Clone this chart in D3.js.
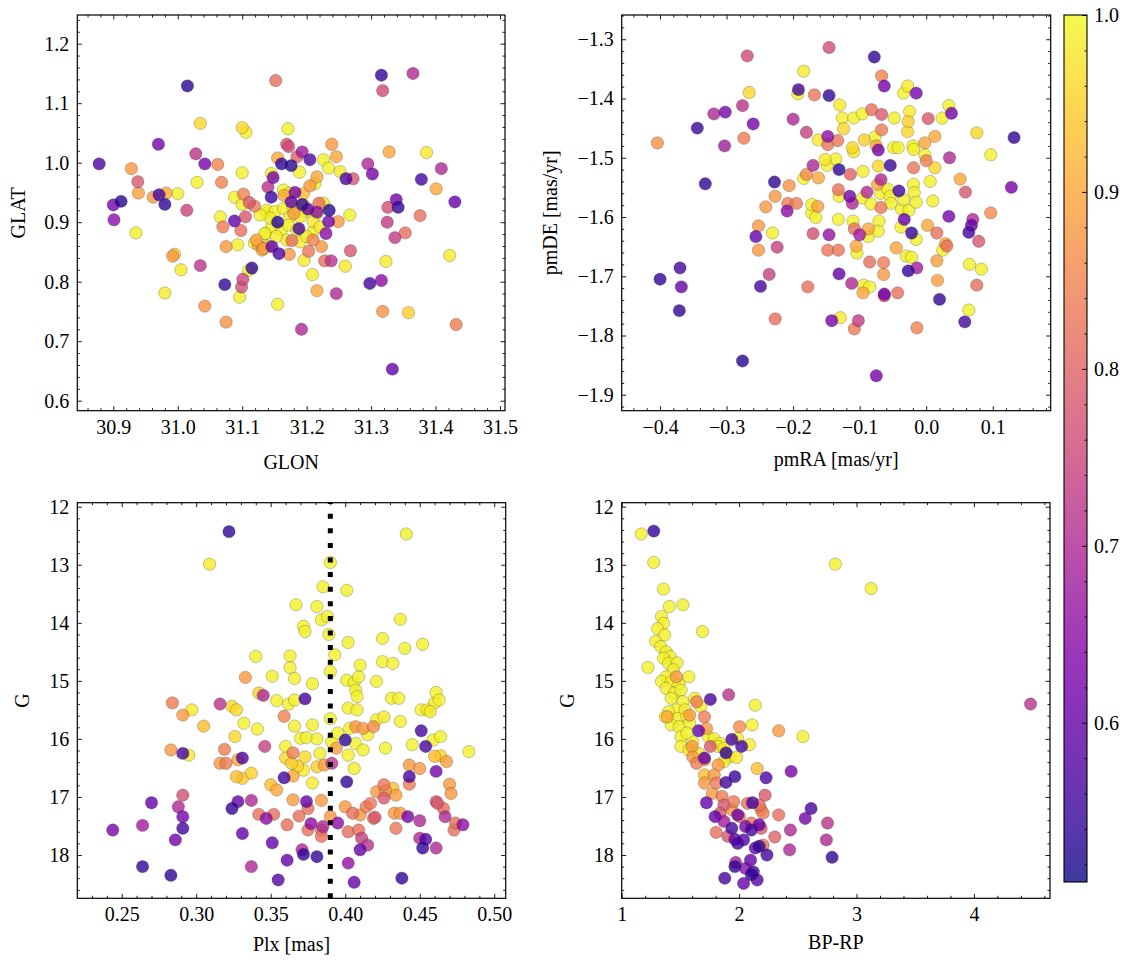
<!DOCTYPE html>
<html><head><meta charset="utf-8">
<script src="https://cdn.jsdelivr.net/npm/d3@7"></script>
<style>body{margin:0;background:#fff}</style>
</head><body>
<svg id="c" width="1133" height="965"></svg>
<script>
// ---------- data: [x, y, membership probability] ----------
const probRange = [0.51, 1.0];
const cbarTicks = [0.6, 0.7, 0.8, 0.9, 1.0];
const plxMean = 0.390;

const glonTicks = [30.9, 31.0, 31.1, 31.2, 31.3, 31.4, 31.5];
const glatTicks = [0.6, 0.7, 0.8, 0.9, 1.0, 1.1, 1.2];
const pmraTicks = [-0.4, -0.3, -0.2, -0.1, 0.0, 0.1];
const pmdeTicks = [-1.9, -1.8, -1.7, -1.6, -1.5, -1.4, -1.3];
const plxTicks = [0.25, 0.30, 0.35, 0.40, 0.45, 0.50];
const gTicks = [12, 13, 14, 15, 16, 17, 18];
const bprpTicks = [1, 2, 3, 4];

const glonGlat = [
[30.878,0.998,0.57],[30.900,0.929,0.62],[30.912,0.935,0.53],[30.901,0.904,0.65],[30.928,0.990,0.88],
[30.938,0.968,0.78],[30.939,0.949,0.89],[30.935,0.882,0.99],[30.970,1.031,0.62],[30.971,0.946,0.56],
[30.962,0.942,0.88],[30.982,0.949,0.90],[30.980,0.930,0.54],[31.000,0.948,0.99],[31.015,1.129,0.53],
[31.014,0.920,0.75],[30.992,0.843,0.88],[30.995,0.846,0.95],[31.005,0.820,0.98],[30.980,0.781,0.98],
[31.028,1.015,0.72],[31.042,0.998,0.62],[31.035,1.066,0.96],[31.030,0.967,0.99],[31.035,0.827,0.72],
[31.042,0.759,0.87],[31.062,0.997,0.85],[31.068,0.967,0.85],[31.066,0.909,0.99],[31.070,0.892,0.84],
[31.075,0.859,0.88],[31.073,0.795,0.54],[31.075,0.732,0.87],[31.088,0.902,0.60],[31.088,0.942,0.99],
[31.093,0.862,0.99],[31.100,1.059,0.96],[31.106,1.051,0.99],[31.100,0.983,0.99],[31.102,0.947,0.85],
[31.105,0.909,0.78],[31.098,0.886,0.82],[31.100,0.930,0.99],[31.111,0.933,0.78],[31.096,0.774,0.99],
[31.101,0.804,0.75],[31.099,0.791,0.77],[31.110,0.819,0.99],[31.115,0.823,0.54],[31.119,0.927,0.84],
[31.119,0.865,0.99],[31.125,0.862,0.90],[31.131,0.853,0.90],[31.136,0.881,0.99],[31.138,0.915,0.99],
[31.140,0.959,0.72],[31.145,0.982,0.99],[31.148,0.975,0.62],[31.145,0.942,0.55],[31.146,0.859,0.60],
[31.155,0.900,0.53],[31.157,0.847,0.57],[31.152,1.138,0.82],[31.155,0.762,0.99],[31.155,1.008,0.90],
[31.161,0.998,0.54],[31.176,0.995,0.53],[31.171,1.057,0.99],[31.169,1.031,0.78],[31.172,1.027,0.76],
[31.185,1.010,0.80],[31.189,0.984,0.99],[31.193,1.018,0.68],[31.205,1.005,0.57],[31.176,0.934,0.60],
[31.182,0.950,0.63],[31.177,0.869,0.82],[31.173,0.846,0.88],[31.188,0.889,0.56],[31.193,0.930,0.54],
[31.202,0.922,0.60],[31.216,0.917,0.65],[31.216,0.976,0.90],[31.213,0.965,0.99],[31.203,0.851,0.83],
[31.196,0.836,0.98],[31.209,0.812,0.99],[31.216,0.785,0.90],[31.192,0.720,0.70],[31.226,1.005,0.99],
[31.234,0.991,0.99],[31.239,1.031,0.88],[31.246,1.010,0.90],[31.252,0.985,0.98],[31.235,0.920,0.53],
[31.234,0.901,0.62],[31.230,0.881,0.65],[31.219,0.932,0.82],[31.223,0.859,0.88],[31.228,0.835,0.82],
[31.238,0.835,0.72],[31.249,0.901,0.88],[31.261,0.973,0.57],[31.272,0.973,0.78],[31.267,0.912,0.99],
[31.268,0.852,0.78],[31.260,0.826,0.98],[31.246,0.780,0.70],[31.295,0.998,0.70],[31.302,0.981,0.62],
[31.298,0.797,0.56],[31.316,1.147,0.54],[31.318,1.121,0.76],[31.328,1.018,0.90],[31.326,0.925,0.77],
[31.325,0.900,0.73],[31.323,0.834,0.98],[31.316,0.802,0.65],[31.318,0.750,0.87],[31.337,0.874,0.73],
[31.339,0.938,0.62],[31.342,0.925,0.54],[31.333,0.653,0.60],[31.365,1.150,0.70],[31.353,0.882,0.82],
[31.358,0.748,0.95],[31.378,0.972,0.56],[31.376,0.911,0.82],[31.386,1.017,0.98],[31.401,0.956,0.90],
[31.409,0.990,0.70],[31.422,0.844,0.98],[31.430,0.934,0.60],[31.432,0.728,0.84],
[31.138,0.920,0.99],[31.151,0.918,0.99],[31.164,0.923,0.99],[31.174,0.909,0.99],[31.190,0.909,0.98],
[31.200,0.918,0.99],[31.210,0.901,0.98],[31.146,0.892,0.99],[31.161,0.887,0.99],[31.172,0.895,0.99],
[31.185,0.887,0.99],[31.200,0.876,0.98],[31.135,0.881,0.99],[31.153,0.876,0.98],[31.169,0.870,0.99],
[31.190,0.867,0.99],[31.210,0.884,0.99],[31.221,0.892,0.98],[31.143,0.907,0.99],[31.179,0.926,0.99],
[31.195,0.929,0.98],[31.216,0.915,0.99],[31.128,0.912,0.99],[31.226,0.932,0.98],[31.164,0.954,0.99],
[31.122,0.870,0.90],[31.133,0.856,0.89],[31.174,0.949,0.99],[31.205,0.961,0.88],[31.180,0.915,0.88],
[31.165,0.945,0.90],[31.195,0.948,0.93],[31.210,0.870,0.85],[31.140,0.860,0.95]
];

const pmraPmde = [
[-0.404,-1.475,0.87],[-0.344,-1.450,0.55],[-0.332,-1.544,0.54],[-0.319,-1.426,0.70],[-0.302,-1.423,0.62],
[-0.303,-1.480,0.68],[-0.276,-1.412,0.72],[-0.269,-1.328,0.76],[-0.266,-1.390,0.96],[-0.260,-1.443,0.62],
[-0.274,-1.467,0.84],[-0.400,-1.705,0.54],[-0.370,-1.686,0.56],[-0.368,-1.718,0.60],[-0.371,-1.758,0.54],
[-0.276,-1.843,0.53],[-0.256,-1.633,0.60],[-0.252,-1.615,0.88],[-0.252,-1.656,0.88],[-0.249,-1.717,0.56],
[-0.241,-1.583,0.88],[-0.231,-1.627,0.99],[-0.228,-1.541,0.54],[-0.236,-1.697,0.74],[-0.227,-1.772,0.82],
[-0.224,-1.651,0.74],[-0.227,-1.565,0.88],[-0.206,-1.547,0.87],[-0.208,-1.577,0.84],[-0.209,-1.590,0.65],
[-0.195,-1.577,0.84],[-0.200,-1.435,0.70],[-0.192,-1.385,0.56],[-0.193,-1.392,0.99],[-0.184,-1.354,0.98],
[-0.184,-1.535,0.99],[-0.180,-1.528,0.86],[-0.180,-1.457,0.74],[-0.170,-1.513,0.70],[-0.168,-1.394,0.83],
[-0.170,-1.628,0.77],[-0.178,-1.718,0.82],[-0.172,-1.593,0.99],[-0.166,-1.601,0.99],[-0.172,-1.579,0.99],
[-0.163,-1.582,0.89],[-0.162,-1.534,0.90],[-0.162,-1.470,0.98],[-0.152,-1.503,0.98],[-0.149,-1.513,0.99],
[-0.146,-1.314,0.77],[-0.146,-1.395,0.54],[-0.148,-1.464,0.65],[-0.148,-1.478,0.83],[-0.146,-1.630,0.66],
[-0.148,-1.656,0.83],[-0.132,-1.656,0.83],[-0.131,-1.520,0.54],[-0.130,-1.411,0.98],[-0.133,-1.471,0.83],
[-0.136,-1.502,0.99],[-0.131,-1.565,0.99],[-0.132,-1.554,0.82],[-0.132,-1.604,0.99],[-0.131,-1.696,0.60],
[-0.129,-1.770,0.98],[-0.142,-1.775,0.62],[-0.126,-1.433,0.99],[-0.124,-1.451,0.96],[-0.114,-1.528,0.80],
[-0.115,-1.565,0.62],[-0.111,-1.577,0.70],[-0.112,-1.712,0.70],[-0.109,-1.433,0.99],[-0.111,-1.483,0.96],
[-0.109,-1.490,0.98],[-0.110,-1.607,0.99],[-0.108,-1.620,0.82],[-0.108,-1.789,0.84],[-0.102,-1.775,0.73],
[-0.105,-1.649,0.90],[-0.104,-1.661,0.99],[-0.100,-1.630,0.68],[-0.096,-1.426,0.99],[-0.095,-1.523,0.99],
[-0.096,-1.568,0.99],[-0.089,-1.558,0.70],[-0.093,-1.470,0.95],[-0.094,-1.715,0.99],[-0.095,-1.728,0.90],
[-0.085,-1.718,0.99],[-0.087,-1.620,0.90],[-0.087,-1.633,0.99],[-0.085,-1.676,0.82],[-0.082,-1.419,0.82],
[-0.083,-1.578,0.99],[-0.078,-1.330,0.54],[-0.077,-1.465,0.99],[-0.075,-1.480,0.90],[-0.075,-1.868,0.62],
[-0.072,-1.487,0.62],[-0.073,-1.545,0.90],[-0.072,-1.514,0.96],[-0.068,-1.537,0.70],[-0.069,-1.560,0.99],
[-0.068,-1.584,0.83],[-0.071,-1.607,0.99],[-0.072,-1.624,0.99],[-0.067,-1.362,0.85],[-0.063,-1.379,0.62],
[-0.067,-1.427,0.78],[-0.067,-1.453,0.84],[-0.064,-1.677,0.84],[-0.064,-1.697,0.88],[-0.063,-1.730,0.62],
[-0.063,-1.733,0.74],[-0.058,-1.553,0.99],[-0.054,-1.565,0.99],[-0.054,-1.513,0.55],[-0.053,-1.577,0.99],
[-0.049,-1.483,0.99],[-0.048,-1.433,0.99],[-0.045,-1.652,0.90],[-0.043,-1.728,0.82],[-0.042,-1.483,0.99],
[-0.041,-1.556,0.56],[-0.038,-1.617,0.99],[-0.037,-1.587,0.99],[-0.034,-1.391,0.99],[-0.034,-1.571,0.99],
[-0.033,-1.604,0.60],[-0.030,-1.666,0.99],[-0.028,-1.379,0.98],[-0.028,-1.456,0.96],[-0.027,-1.439,0.95],
[-0.026,-1.589,0.99],[-0.027,-1.691,0.54],[-0.025,-1.422,0.98],[-0.022,-1.668,0.99],[-0.022,-1.627,0.54],
[-0.020,-1.480,0.99],[-0.019,-1.486,0.99],[-0.019,-1.517,0.83],[-0.019,-1.545,0.99],[-0.018,-1.559,0.99],
[-0.015,-1.391,0.62],[-0.015,-1.638,0.99],[-0.015,-1.575,0.99],[-0.014,-1.686,0.68],[-0.014,-1.787,0.85],
[-0.002,-1.475,0.90],[-0.002,-1.495,0.99],[0.000,-1.505,0.84],[0.002,-1.614,0.90],[0.003,-1.434,0.78],
[0.006,-1.540,0.99],[0.010,-1.573,0.99],[0.013,-1.464,0.90],[0.013,-1.517,0.96],[0.016,-1.627,0.82],
[0.016,-1.674,0.89],[0.017,-1.707,0.89],[0.020,-1.739,0.54],[0.024,-1.433,0.99],[0.025,-1.656,0.99],
[0.029,-1.645,0.90],[0.031,-1.649,0.82],[0.034,-1.412,0.99],[0.035,-1.500,0.70],[0.034,-1.599,0.62],
[0.038,-1.425,0.62],[0.051,-1.536,0.90],[0.059,-1.558,0.78],[0.058,-1.777,0.56],[0.064,-1.757,0.99],
[0.064,-1.626,0.56],[0.068,-1.614,0.60],[0.070,-1.604,0.70],[0.065,-1.680,0.99],[0.076,-1.458,0.96],
[0.079,-1.641,0.78],[0.076,-1.715,0.82],[0.083,-1.688,0.99],[0.097,-1.495,0.99],[0.097,-1.593,0.86],
[0.128,-1.550,0.62],[0.132,-1.466,0.54]
];

const plxG = [
[0.244,17.57,0.62],[0.264,17.49,0.68],[0.264,18.20,0.54],[0.270,17.10,0.60],[0.283,18.35,0.54],
[0.284,15.38,0.84],[0.283,16.19,0.88],[0.286,17.74,0.62],[0.288,17.17,0.70],[0.291,16.97,0.77],
[0.291,17.34,0.62],[0.291,17.54,0.56],[0.291,15.59,0.88],[0.291,16.25,0.56],[0.295,16.28,0.98],
[0.297,15.50,0.98],[0.305,15.78,0.93],[0.309,12.99,0.98],[0.316,15.40,0.72],[0.316,16.42,0.88],
[0.319,16.18,0.84],[0.320,16.42,0.84],[0.322,12.43,0.54],[0.324,17.20,0.54],[0.324,15.44,0.96],
[0.327,15.50,0.96],[0.326,15.96,0.96],[0.328,17.08,0.60],[0.327,16.65,0.93],[0.328,16.36,0.90],
[0.331,16.33,0.57],[0.331,16.68,0.95],[0.331,17.63,0.60],[0.332,15.73,0.99],[0.333,14.94,0.88],
[0.337,16.59,0.95],[0.337,17.06,0.70],[0.337,18.20,0.70],[0.340,14.58,0.99],[0.342,15.21,0.95],
[0.345,15.25,0.70],[0.341,15.83,0.99],[0.342,17.30,0.82],[0.346,16.13,0.74],[0.347,17.37,0.65],
[0.350,16.79,0.93],[0.351,17.79,0.60],[0.351,14.92,0.99],[0.352,17.30,0.82],[0.354,15.34,0.99],
[0.354,16.88,0.90],[0.355,18.43,0.58],[0.359,16.67,0.56],[0.359,15.61,0.85],[0.360,16.13,0.99],
[0.360,16.33,0.96],[0.361,17.48,0.82],[0.361,18.09,0.60],[0.362,15.40,0.99],[0.363,14.77,0.99],
[0.363,14.57,0.99],[0.364,16.42,0.95],[0.365,16.64,0.90],[0.365,17.05,0.89],[0.365,16.24,0.84],
[0.366,15.78,0.99],[0.366,14.96,0.99],[0.366,15.33,0.99],[0.367,13.69,0.99],[0.368,16.47,0.96],
[0.370,15.99,0.99],[0.369,17.33,0.82],[0.371,17.91,0.70],[0.372,17.99,0.54],[0.372,14.06,0.99],
[0.373,14.15,0.99],[0.373,15.31,0.56],[0.373,16.31,0.96],[0.372,16.54,0.98],[0.374,15.98,0.99],
[0.374,17.08,0.60],[0.375,17.57,0.82],[0.375,17.20,0.82],[0.377,17.46,0.65],[0.378,15.76,0.99],
[0.378,15.05,0.99],[0.378,16.76,0.98],[0.381,13.72,0.99],[0.381,18.03,0.54],[0.381,16.00,0.99],
[0.381,16.48,0.95],[0.383,16.25,0.99],[0.384,13.95,0.99],[0.384,17.06,0.88],[0.384,17.57,0.82],
[0.384,17.68,0.82],[0.385,13.38,0.99],[0.386,16.45,0.89],[0.385,17.51,0.70],[0.388,13.89,0.99],
[0.389,14.20,0.99],[0.390,14.84,0.99],[0.390,12.96,0.99],[0.390,15.65,0.99],[0.391,16.05,0.99],
[0.391,16.42,0.72],[0.390,17.34,0.88],[0.393,14.55,0.99],[0.394,16.16,0.89],[0.395,15.90,0.99],
[0.395,17.45,0.65],[0.400,16.02,0.54],[0.400,17.17,0.88],[0.401,14.99,0.99],[0.401,16.74,0.54],
[0.401,13.44,0.99],[0.402,14.34,0.99],[0.402,15.47,0.99],[0.402,18.14,0.66],[0.402,17.60,0.82],
[0.402,16.28,0.99],[0.403,15.82,0.99],[0.405,17.28,0.82],[0.406,16.51,0.99],[0.406,18.47,0.60],
[0.406,15.03,0.99],[0.407,16.08,0.99],[0.407,15.79,0.88],[0.407,15.16,0.99],[0.408,15.27,0.99],
[0.408,15.50,0.99],[0.409,17.57,0.82],[0.409,14.93,0.99],[0.410,14.73,0.99],[0.410,17.91,0.60],
[0.410,17.31,0.88],[0.411,17.71,0.74],[0.412,16.19,0.99],[0.412,15.82,0.88],[0.414,17.17,0.84],
[0.415,17.83,0.72],[0.415,15.93,0.99],[0.417,17.11,0.83],[0.419,15.79,0.86],[0.419,17.37,0.82],
[0.420,17.35,0.78],[0.421,16.91,0.88],[0.421,15.01,0.99],[0.421,15.67,0.99],[0.425,14.27,0.99],
[0.425,14.67,0.99],[0.426,15.62,0.98],[0.426,16.79,0.83],[0.426,17.02,0.78],[0.427,16.16,0.99],
[0.427,16.89,0.88],[0.431,15.30,0.99],[0.432,14.70,0.99],[0.432,16.85,0.93],[0.433,17.28,0.88],
[0.434,17.54,0.83],[0.434,16.97,0.89],[0.436,15.30,0.99],[0.437,13.94,0.99],[0.437,15.70,0.99],
[0.437,17.28,0.88],[0.438,18.40,0.54],[0.440,14.44,0.99],[0.441,12.47,0.99],[0.442,17.34,0.62],
[0.443,16.65,0.56],[0.443,16.45,0.88],[0.443,16.78,0.84],[0.445,16.10,0.99],[0.450,16.51,0.88],
[0.450,17.41,0.70],[0.450,17.71,0.70],[0.451,15.50,0.99],[0.451,15.86,0.56],[0.452,14.37,0.99],
[0.452,17.88,0.54],[0.454,16.13,0.56],[0.454,17.73,0.58],[0.455,15.50,0.99],[0.457,15.53,0.98],
[0.459,16.02,0.99],[0.460,15.38,0.99],[0.460,16.30,0.93],[0.461,15.20,0.99],[0.461,17.88,0.70],
[0.461,16.56,0.62],[0.461,17.08,0.78],[0.462,17.11,0.78],[0.463,15.33,0.99],[0.464,15.96,0.99],
[0.464,16.29,0.96],[0.466,17.20,0.82],[0.467,17.34,0.70],[0.468,16.39,0.89],[0.470,16.78,0.88],
[0.471,16.94,0.88],[0.473,17.57,0.82],[0.474,17.45,0.82],[0.479,17.48,0.65],[0.483,16.22,0.99]
];

const bprpG = [
[1.166,12.47,0.99],[1.273,12.42,0.54],[1.273,12.96,0.99],[1.356,13.42,0.99],[1.406,13.72,0.99],
[1.522,13.69,0.99],[2.819,12.99,0.99],[3.125,13.41,0.99],[4.482,15.40,0.72],[1.688,14.15,0.99],
[1.223,14.77,0.99],[1.339,13.89,0.99],[1.356,14.01,0.99],[1.306,14.10,0.99],[1.366,14.21,0.99],
[1.289,14.32,0.99],[1.333,14.41,0.99],[1.379,14.50,0.99],[1.412,14.58,0.99],[1.356,14.61,0.99],
[1.399,14.70,0.99],[1.472,14.69,0.99],[1.439,14.81,0.99],[1.379,14.93,0.99],[1.339,15.01,0.99],
[1.422,15.01,0.99],[1.489,15.05,0.99],[1.572,14.93,0.99],[1.379,15.13,0.99],[1.449,15.21,0.99],
[1.505,15.16,0.99],[1.422,15.30,0.99],[1.522,15.36,0.99],[1.466,15.50,0.99],[1.399,15.53,0.99],
[1.539,15.50,0.99],[1.372,15.62,0.99],[1.472,15.65,0.99],[1.555,15.62,0.99],[1.422,15.76,0.99],
[1.489,15.79,0.99],[1.579,15.73,0.99],[1.505,15.96,0.99],[1.605,16.05,0.99],[1.555,15.90,0.99],
[1.505,16.13,0.99],[1.572,16.19,0.98],[1.655,16.25,0.98],[1.622,15.30,0.99],[1.672,15.44,0.99],
[1.738,15.96,0.99],[1.788,16.00,0.99],[1.838,16.08,0.99],[1.871,16.16,0.98],[1.921,16.31,0.98],
[1.871,16.39,0.98],[1.821,16.13,0.99],[2.137,15.42,0.99],[2.111,15.76,0.99],[1.988,15.99,0.99],
[2.088,16.10,0.99],[1.978,16.32,0.98],[2.543,15.96,0.99],[1.466,14.93,0.88],[2.004,15.79,0.86],
[2.337,15.86,0.88],[2.154,16.51,0.93],[1.638,15.36,0.84],[1.579,15.59,0.88],[1.705,15.62,0.84],
[1.722,15.82,0.88],[1.389,15.62,0.90],[1.599,16.13,0.88],[1.605,16.31,0.88],[1.638,16.42,0.84],
[1.705,16.36,0.88],[1.755,16.13,0.78],[1.821,16.45,0.88],[1.705,16.62,0.93],[1.788,16.62,0.88],
[1.705,16.76,0.88],[1.805,16.76,0.84],[1.772,16.94,0.88],[1.855,16.99,0.84],[1.871,17.14,0.78],
[1.954,17.08,0.83],[1.838,17.28,0.78],[1.938,17.22,0.88],[2.004,17.34,0.83],[2.071,17.11,0.82],
[2.171,17.14,0.82],[2.221,16.97,0.78],[2.187,17.22,0.86],[2.204,17.28,0.84],[2.337,17.31,0.82],
[2.104,17.45,0.82],[1.805,17.61,0.82],[1.904,17.68,0.78],[2.304,17.69,0.80],[2.187,17.54,0.78],
[2.204,17.83,0.82],[2.437,17.57,0.70],[2.430,17.91,0.70],[2.753,17.45,0.72],[2.743,17.74,0.70],
[2.563,17.37,0.62],[2.613,17.20,0.56],[2.443,16.56,0.62],[2.230,16.67,0.57],[2.792,18.04,0.54],
[1.911,15.24,0.72],[1.755,15.32,0.56],[1.655,15.86,0.60],[1.705,16.33,0.60],[1.938,16.01,0.56],
[2.021,16.13,0.56],[1.888,16.24,0.54],[1.964,16.65,0.55],[1.888,16.75,0.56],[1.722,17.10,0.60],
[2.114,17.10,0.56],[1.795,17.34,0.60],[1.988,17.31,0.62],[1.871,17.42,0.68],[1.938,17.54,0.56],
[2.104,17.57,0.56],[2.054,17.51,0.62],[2.171,17.48,0.60],[1.964,17.73,0.60],[2.038,17.74,0.58],
[1.988,17.80,0.56],[2.137,17.88,0.60],[2.171,17.85,0.54],[2.237,18.00,0.56],[1.971,18.13,0.68],
[1.964,18.20,0.54],[2.054,18.23,0.65],[2.097,18.09,0.60],[2.104,18.34,0.54],[1.878,18.40,0.56],
[2.038,18.49,0.60],[2.154,18.43,0.58],[2.121,18.29,0.56]
];

// ---------- drawing ----------
const FF = "'Liberation Serif', 'Times New Roman', serif";
const FS = 20;
const svg = d3.select('#c');
const color = d3.scaleSequential(d3.interpolatePlasma).domain(probRange);

function minors(dom, step) {
  const lo = Math.min(dom[0], dom[1]), hi = Math.max(dom[0], dom[1]);
  const out = [];
  for (let k = Math.ceil(lo / step - 1e-9); k <= Math.floor(hi / step + 1e-9); k++) {
    if (k % 5 !== 0) out.push(+(k * step).toFixed(6));
  }
  return out;
}

function styleAxis(g) {
  g.select('.domain').remove();
  g.attr('font-family', FF).attr('font-size', FS);
  g.selectAll('line').attr('stroke', '#000').attr('stroke-width', 0.9);
  g.selectAll('text').attr('fill', '#000');
}

function drawPanel(cfg) {
  const x = d3.scaleLinear().domain(cfg.xd).range([cfg.l, cfg.r]);
  const y = d3.scaleLinear().domain(cfg.yd).range([cfg.b, cfg.t]);
  const g = svg.append('g');
  const id = 'clip' + cfg.id;
  svg.append('clipPath').attr('id', id).append('rect')
    .attr('x', cfg.l).attr('y', cfg.t).attr('width', cfg.r - cfg.l).attr('height', cfg.b - cfg.t);
  const pts = cfg.data.slice().sort((a, b) => b[2] - a[2]);
  g.append('g').attr('clip-path', `url(#${id})`)
    .selectAll('circle').data(pts).join('circle')
    .attr('cx', d => x(d[0])).attr('cy', d => y(d[1])).attr('r', 6.2)
    .attr('fill', d => color(d[2])).attr('fill-opacity', 0.8)
    .attr('stroke', '#222').attr('stroke-opacity', 0.5).attr('stroke-width', 0.5);

  if (cfg.vline != null) {
    g.append('line').attr('x1', x(cfg.vline)).attr('x2', x(cfg.vline))
      .attr('y1', cfg.b).attr('y2', cfg.t)
      .attr('stroke', '#000').attr('stroke-width', 5).attr('stroke-dasharray', '5 9.6');
  }

  const xMin = minors(cfg.xd, cfg.xMinor), yMin = minors(cfg.yd, cfg.yMinor);
  const xt = cfg.xTicks.filter(v => v >= Math.min(...cfg.xd) - 1e-9 && v <= Math.max(...cfg.xd) + 1e-9);
  const yt = cfg.yTicks.filter(v => v >= Math.min(...cfg.yd) - 1e-9 && v <= Math.max(...cfg.yd) + 1e-9);
  const MJ = 4.5, MN = 2.5;
  g.append('g').attr('transform', `translate(0,${cfg.b})`)
    .call(d3.axisBottom(x).tickValues(xt).tickSize(-MJ).tickPadding(9).tickFormat(d3.format(cfg.xFmt))).call(styleAxis);
  g.append('g').attr('transform', `translate(0,${cfg.b})`)
    .call(d3.axisBottom(x).tickValues(xMin).tickSize(-MN).tickFormat('')).call(styleAxis);
  g.append('g').attr('transform', `translate(0,${cfg.t})`)
    .call(d3.axisTop(x).tickValues(xt).tickSize(-MJ).tickFormat('')).call(styleAxis);
  g.append('g').attr('transform', `translate(0,${cfg.t})`)
    .call(d3.axisTop(x).tickValues(xMin).tickSize(-MN).tickFormat('')).call(styleAxis);
  g.append('g').attr('transform', `translate(${cfg.l},0)`)
    .call(d3.axisLeft(y).tickValues(yt).tickSize(-MJ).tickPadding(8).tickFormat(d3.format(cfg.yFmt))).call(styleAxis);
  g.append('g').attr('transform', `translate(${cfg.l},0)`)
    .call(d3.axisLeft(y).tickValues(yMin).tickSize(-MN).tickFormat('')).call(styleAxis);
  g.append('g').attr('transform', `translate(${cfg.r},0)`)
    .call(d3.axisRight(y).tickValues(yt).tickSize(-MJ).tickFormat('')).call(styleAxis);
  g.append('g').attr('transform', `translate(${cfg.r},0)`)
    .call(d3.axisRight(y).tickValues(yMin).tickSize(-MN).tickFormat('')).call(styleAxis);

  g.append('rect').attr('x', cfg.l).attr('y', cfg.t).attr('width', cfg.r - cfg.l).attr('height', cfg.b - cfg.t)
    .attr('fill', 'none').attr('stroke', '#000').attr('stroke-width', 1.2);

  g.append('text').attr('x', (cfg.l + cfg.r) / 2).attr('y', cfg.xlY)
    .attr('text-anchor', 'middle').attr('font-family', FF).attr('font-size', FS).text(cfg.xLabel);
  g.append('text').attr('transform', `translate(${cfg.ylX},${(cfg.t + cfg.b) / 2}) rotate(-90)`)
    .attr('text-anchor', 'middle').attr('dy', '0.33em').attr('font-family', FF).attr('font-size', FS).text(cfg.yLabel);
}

drawPanel({id: 1, data: glonGlat, l: 77.3, r: 505, t: 15, b: 410.7,
  xd: [30.8441, 31.5078], yd: [0.5832, 1.2482], xTicks: glonTicks, yTicks: glatTicks,
  xMinor: 0.02, yMinor: 0.02, xFmt: '.1f', yFmt: '.1f', xLabel: 'GLON', yLabel: 'GLAT', xlY: 469, ylX: 18});
drawPanel({id: 2, data: pmraPmde, l: 621.7, r: 1050.7, t: 15, b: 410.7,
  xd: [-0.4576, 0.1871], yd: [-1.9269, -1.2591], xTicks: pmraTicks, yTicks: pmdeTicks,
  xMinor: 0.02, yMinor: 0.02, xFmt: '.1f', yFmt: '.1f', xLabel: 'pmRA [mas/yr]', yLabel: 'pmDE [mas/yr]', xlY: 466, ylX: 550});
drawPanel({id: 3, data: plxG, l: 77.3, r: 505.7, t: 502.7, b: 898.3,
  xd: [0.2202, 0.5077], yd: [18.746, 11.931], xTicks: plxTicks, yTicks: gTicks,
  xMinor: 0.01, yMinor: 0.2, xFmt: '.2f', yFmt: 'd', xLabel: 'Plx [mas]', yLabel: 'G', xlY: 951, ylX: 22, vline: plxMean});
drawPanel({id: 4, data: bprpG, l: 621.7, r: 1050, t: 502.7, b: 898.3,
  xd: [1.0, 4.648], yd: [18.746, 11.931], xTicks: bprpTicks, yTicks: gTicks,
  xMinor: 0.2, yMinor: 0.2, xFmt: 'd', yFmt: 'd', xLabel: 'BP-RP', yLabel: 'G', xlY: 949, ylX: 567});

// ---------- colorbar ----------
const cb = {l: 1064, r: 1087, t: 15, b: 882};
const defs = svg.append('defs');
const grad = defs.append('linearGradient').attr('id', 'cbgrad')
  .attr('x1', 0).attr('y1', 1).attr('x2', 0).attr('y2', 0);
d3.range(0, 1.0001, 0.05).forEach(t => {
  grad.append('stop').attr('offset', t).attr('stop-color', d3.interpolatePlasma(t));
});
svg.append('rect').attr('x', cb.l).attr('y', cb.t).attr('width', cb.r - cb.l).attr('height', cb.b - cb.t)
  .attr('fill', 'url(#cbgrad)').attr('fill-opacity', 0.8);
const cScale = d3.scaleLinear().domain(probRange).range([cb.b, cb.t]);
svg.append('g').attr('transform', `translate(${cb.r},0)`)
  .call(d3.axisRight(cScale).tickValues(cbarTicks).tickSize(-5).tickPadding(7).tickFormat(d3.format('.1f'))).call(styleAxis);
svg.append('g').attr('transform', `translate(${cb.r},0)`)
  .call(d3.axisRight(cScale).tickValues(minors(probRange, 0.02).filter(v => v > 0.511)).tickSize(-2.5).tickFormat('')).call(styleAxis);
svg.append('rect').attr('x', cb.l).attr('y', cb.t).attr('width', cb.r - cb.l).attr('height', cb.b - cb.t)
  .attr('fill', 'none').attr('stroke', '#000').attr('stroke-width', 1.1);
</script>
</body></html>
